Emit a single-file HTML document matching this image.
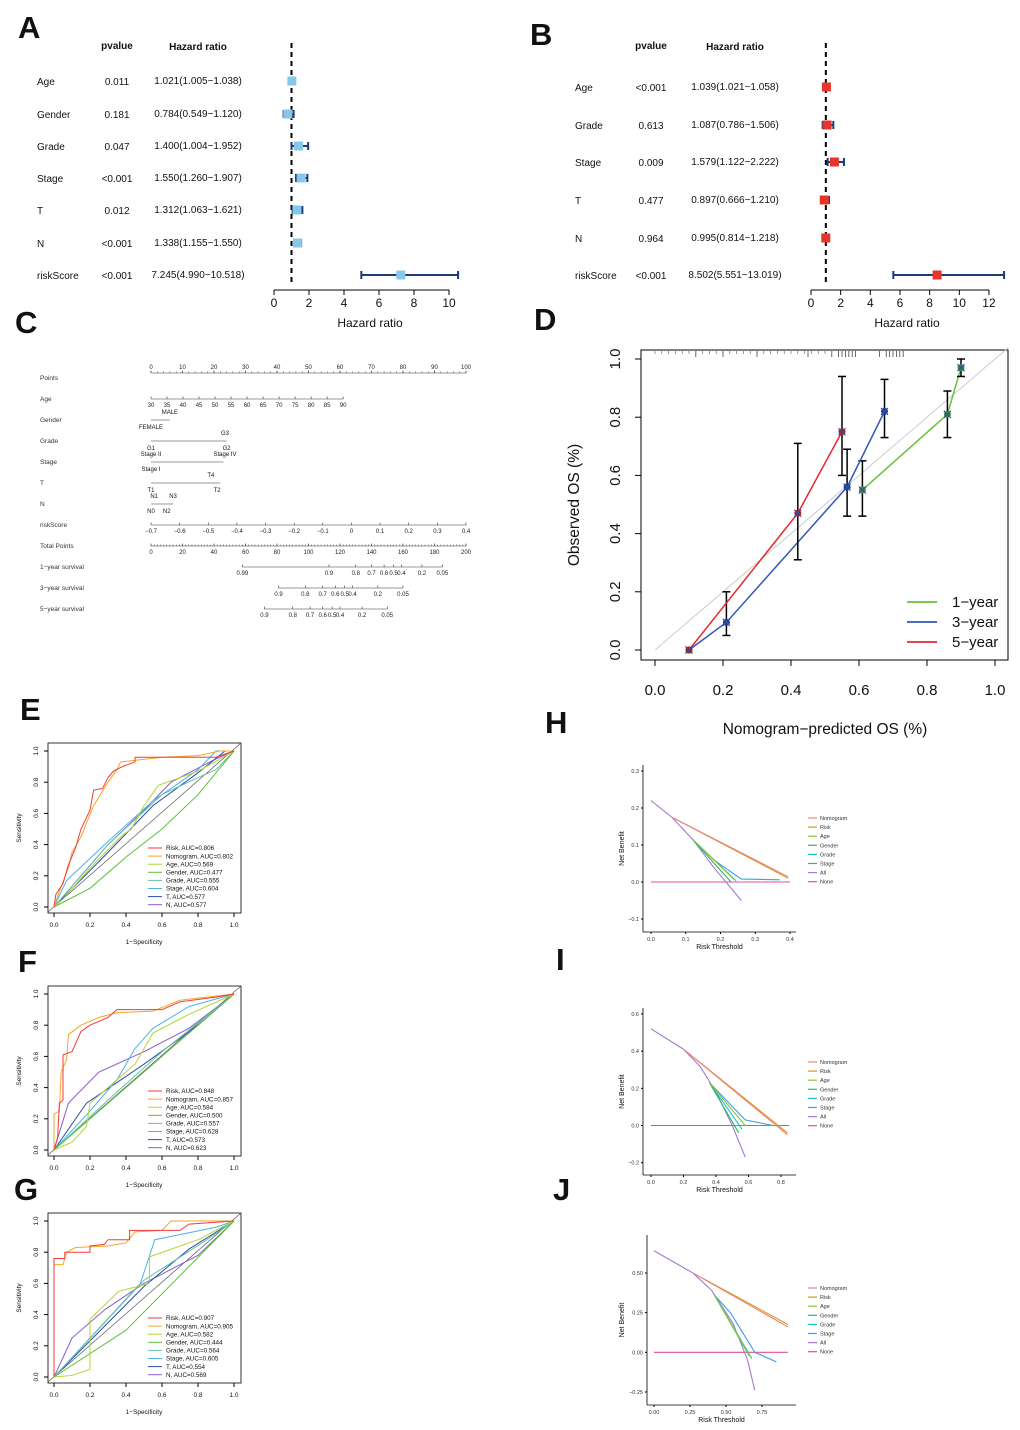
<!DOCTYPE html>
<html><head><meta charset="utf-8"><style>
body{margin:0;background:#fff}
svg{display:block;font-family:"Liberation Sans",Arial,sans-serif}
</style></head><body>
<svg id="s" width="1020" height="1430" viewBox="0 0 1020 1430"></svg>
<script>
// ---------- DATA ----------
const forestAVars=["Age","Gender","Grade","Stage","T","N","riskScore"];
const forestAP=["0.011","0.181","0.047","<0.001","0.012","<0.001","<0.001"];
const forestAHR=[1.021,0.784,1.400,1.550,1.312,1.338,7.245];
const forestALo=[1.005,0.549,1.004,1.260,1.063,1.155,4.990];
const forestAHi=[1.038,1.120,1.952,1.907,1.621,1.550,10.518];
const forestATicks=[0,2,4,6,8,10];
const forestBVars=["Age","Grade","Stage","T","N","riskScore"];
const forestBP=["<0.001","0.613","0.009","0.477","0.964","<0.001"];
const forestBHR=[1.039,1.087,1.579,0.897,0.995,8.502];
const forestBLo=[1.021,0.786,1.122,0.666,0.814,5.551];
const forestBHi=[1.058,1.506,2.222,1.210,1.218,13.019];
const forestBTicks=[0,2,4,6,8,10,12];
const calibTicks=[0,0.2,0.4,0.6,0.8,1.0];
const cal1X=[0.61,0.86,0.90],cal1Y=[0.55,0.81,0.97],cal1Lo=[0.46,0.73,0.94],cal1Hi=[0.65,0.89,1.0];
const cal3X=[0.10,0.21,0.565,0.675],cal3Y=[0.0,0.095,0.56,0.82],cal3Lo=[0,0.05,0.46,0.73],cal3Hi=[0,0.20,0.69,0.93];
const cal5X=[0.10,0.42,0.55],cal5Y=[0.0,0.47,0.75],cal5Lo=[0,0.31,0.60],cal5Hi=[0,0.71,0.94];
const rocNames=["Risk","Nomogram","Age","Gender","Grade","Stage","T","N"];
const rocColors=["#f03b3b","#f5a623","#b5d335","#5cbf3c","#66c2a5","#4fb3e8","#2c4fb0","#8a5cc7"];
const rocAucE=["0.806","0.802","0.569","0.477","0.555","0.604","0.577","0.577"];
const rocAucF=["0.848","0.857","0.584","0.500","0.557","0.628","0.573","0.623"];
const rocAucG=["0.907","0.905","0.582","0.444","0.564","0.605","0.554","0.569"];
const rocE=[
 [[0,0],[0.01,0.08],[0.05,0.15],[0.08,0.27],[0.12,0.38],[0.15,0.5],[0.2,0.62],[0.22,0.75],[0.27,0.76],[0.3,0.83],[0.33,0.87],[0.38,0.9],[0.45,0.93],[0.45,0.96],[0.9,0.96],[1,1]],
 [[0,0],[0.03,0.1],[0.08,0.25],[0.1,0.35],[0.15,0.45],[0.22,0.65],[0.3,0.8],[0.35,0.88],[0.37,0.93],[0.6,0.96],[0.8,0.97],[0.92,1],[1,1]],
 [[0,0],[0.05,0.05],[0.2,0.25],[0.38,0.46],[0.43,0.5],[0.5,0.65],[0.58,0.78],[0.8,0.87],[1,1]],
 [[0,0],[0.2,0.12],[0.4,0.32],[0.6,0.5],[0.8,0.72],[1,1]],
 [[0,0],[0.3,0.4],[0.6,0.72],[0.8,0.83],[0.9,0.88],[1,1]],
 [[0,0],[0.07,0.17],[0.3,0.42],[0.55,0.68],[0.8,0.88],[0.9,1],[1,1]],
 [[0,0],[0.3,0.35],[0.55,0.65],[0.8,0.86],[0.95,1],[1,1]],
 [[0,0],[0.3,0.4],[0.5,0.62],[0.65,0.8],[0.9,0.95],[1,1]]];
const rocF=[
 [[0,0],[0.02,0.08],[0.03,0.3],[0.05,0.32],[0.05,0.61],[0.1,0.63],[0.15,0.76],[0.2,0.8],[0.3,0.85],[0.35,0.9],[0.6,0.9],[0.7,0.95],[0.9,0.98],[1,1]],
 [[0,0],[0,0.23],[0.03,0.25],[0.04,0.5],[0.07,0.58],[0.08,0.74],[0.15,0.8],[0.25,0.85],[0.35,0.88],[0.55,0.89],[0.7,0.96],[1,1]],
 [[0,0],[0.1,0.05],[0.18,0.15],[0.2,0.3],[0.35,0.45],[0.45,0.55],[0.55,0.75],[0.75,0.87],[1,1]],
 [[0,0],[1,1]],
 [[0,0],[0.3,0.32],[0.6,0.63],[1,1]],
 [[0,0],[0.2,0.25],[0.35,0.45],[0.45,0.65],[0.55,0.78],[0.75,0.92],[1,1]],
 [[0,0],[0.18,0.3],[0.5,0.55],[0.8,0.8],[1,1]],
 [[0,0],[0.08,0.3],[0.25,0.5],[0.5,0.63],[0.75,0.78],[1,1]]];
const rocG=[
 [[0,0],[0,0.76],[0.06,0.76],[0.06,0.8],[0.2,0.8],[0.2,0.84],[0.28,0.85],[0.3,0.88],[0.42,0.88],[0.42,0.94],[0.7,0.94],[0.75,0.98],[1,1]],
 [[0,0],[0,0.72],[0.05,0.72],[0.07,0.8],[0.12,0.83],[0.3,0.84],[0.4,0.86],[0.45,0.93],[0.6,0.94],[0.65,1],[1,1]],
 [[0,0],[0.1,0.01],[0.2,0.05],[0.2,0.37],[0.36,0.55],[0.53,0.6],[0.53,0.77],[0.8,0.88],[1,1]],
 [[0,0],[0.4,0.3],[1,1]],
 [[0,0],[0.5,0.62],[0.85,0.88],[1,1]],
 [[0,0],[0.48,0.6],[0.56,0.88],[0.9,0.96],[1,1]],
 [[0,0],[0.5,0.58],[0.75,0.82],[1,1]],
 [[0,0],[0.1,0.25],[0.28,0.43],[0.5,0.6],[0.8,0.78],[1,1]]];
const rocTicks=[0,0.2,0.4,0.6,0.8,1.0];
const dcaNames=["Nomogram","Risk","Age","Gender","Grade","Stage","All","None"];
const dcaColors=["#f08080","#d69a1a","#8cc43c","#2fb36a","#20c0c8","#3aa0e0","#a07ad0","#e0509a"];
const dcaH=[
 [[0.06,0.175],[0.395,0.014]],[[0.06,0.175],[0.395,0.010]],
 [[0.12,0.115],[0.24,0.006]],[[0.12,0.115],[0.23,0.0]],[[0.12,0.115],[0.245,0.003]],
 [[0.12,0.115],[0.18,0.06],[0.26,0.008],[0.37,0.006]],
 [[0,0.22],[0.06,0.175],[0.12,0.115],[0.18,0.04],[0.26,-0.05]],[[0,0],[0.4,0]]];
const dcaI=[
 [[0.2,0.41],[0.84,-0.05]],[[0.2,0.41],[0.84,-0.04]],
 [[0.36,0.23],[0.58,0.0]],[[0.36,0.23],[0.54,-0.04]],[[0.36,0.23],[0.56,-0.02]],
 [[0.36,0.23],[0.58,0.03],[0.75,0.0]],
 [[0,0.52],[0.2,0.41],[0.3,0.32],[0.4,0.18],[0.5,0.0],[0.58,-0.17]],[[0,0],[0.85,0]]];
const dcaJ=[
 [[0.27,0.5],[0.93,0.16]],[[0.27,0.5],[0.93,0.175]],
 [[0.42,0.36],[0.67,-0.03]],[[0.42,0.36],[0.66,-0.02]],[[0.42,0.36],[0.68,-0.04]],
 [[0.42,0.36],[0.53,0.25],[0.7,0.0],[0.85,-0.06]],
 [[0,0.64],[0.27,0.5],[0.4,0.39],[0.55,0.18],[0.65,-0.05],[0.7,-0.24]],[[0,0],[0.93,0]]];

// ---------- HELPERS ----------
const NS="http://www.w3.org/2000/svg",S=document.getElementById('s');
function el(t,a,txt,p){const e=document.createElementNS(NS,t);for(const k in a)e.setAttribute(k,a[k]);if(txt!=null)e.textContent=txt;(p||S).appendChild(e);return e;}
function T(x,y,s,size,anchor,extra){const a={x:x,y:y,'font-size':size,'text-anchor':anchor||'start',fill:'#111'};Object.assign(a,extra||{});const e=el('text',a,s);return e;}
function L(x1,y1,x2,y2,c,w,extra){const a={x1:x1,y1:y1,x2:x2,y2:y2,stroke:c||'#000','stroke-width':w||1};Object.assign(a,extra||{});return el('line',a);}
function P(pts,c,w){return el('polyline',{points:pts.map(p=>p.join(',')).join(' '),fill:'none',stroke:c,'stroke-width':w||1.2});}

[["A",18,38],["B",530,45],["C",15,333],["D",534,330],["E",20,720],["F",18,972],["G",14,1200],["H",545,733],["I",556,970],["J",553,1200]].forEach(l=>{
 const e=T(l[1],l[2],l[0],31,'start',{'font-weight':'bold'});
 
 });

// ---------- FOREST ----------
function forest(id,vars,pv,hr,lo,hi,ticks,rows,cfg){
 const sx=v=>cfg.x0+v*cfg.k;
 T(cfg.px,49,'pvalue',10,'middle',{'font-weight':'bold'});
 T(cfg.hx,50,'Hazard ratio',10,'middle',{'font-weight':'bold'});
 L(sx(1),43,sx(1),283,'#000',2,{'stroke-dasharray':'5,4'});
 vars.forEach((v,i)=>{const y=rows[i];
  T(cfg.lx,y+4,v,10); T(cfg.px,y+4,pv[i],10,'middle');
  T(cfg.hx,y+3,hr[i].toFixed(3)+'('+lo[i].toFixed(3)+'\u2212'+hi[i].toFixed(3)+')',10,'middle');
  const ci=L(sx(lo[i]),y,sx(hi[i]),y,cfg.cic,2);
  
  
  L(sx(lo[i]),y-4,sx(lo[i]),y+4,cfg.cic,2);L(sx(hi[i]),y-4,sx(hi[i]),y+4,cfg.cic,2);
  const b=el('rect',{x:sx(hr[i])-4.5,y:y-4.5,width:9,height:9,fill:cfg.pc});
  
  
 });
 L(sx(ticks[0]),290,sx(ticks[ticks.length-1]),290);
 ticks.forEach(t=>{L(sx(t),290,sx(t),295);T(sx(t),307,String(t),12,'middle');});
 T(cfg.ax,327,'Hazard ratio',12,'middle');
}
forest('forest-a',forestAVars,forestAP,forestAHR,forestALo,forestAHi,forestATicks,[81,114,146,178,210,243,275],{x0:274,k:17.5,lx:37,px:117,hx:198,ax:370,cic:'#1f3a78',pc:'#87c8ea'});
forest('forest-b',forestBVars,forestBP,forestBHR,forestBLo,forestBHi,forestBTicks,[87,125,162,200,238,275],{x0:811,k:14.83,lx:575,px:651,hx:735,ax:907,cic:'#1f3a78',pc:'#e8352b'});

// ---------- NOMOGRAM ----------
(function(){
 const px=v=>151+v*3.15, fs=6, c='#333';
 const rows=[["Points",378],["Age",399],["Gender",420],["Grade",441],["Stage",462],["T",483],["N",504],["riskScore",525],["Total Points",546],["1-year survival",567],["3-year survival",588],["5-year survival",609]];
 rows.forEach(r=>T(40,r[1]+2,r[0].replace('-','\u2212'),6.5,'start',{fill:'#333'}));
 function axis(y,a,b,labs,pos,below,minor){L(px(a),y,px(b),y,c,0.6);
  if(minor)for(let v=a;v<=b+0.01;v+=minor)L(px(v),y,px(v),y-1.5,c,0.5);
  labs.forEach((l,i)=>{L(px(pos[i]),y,px(pos[i]),y-2.5,c,0.6);T(px(pos[i]),below?y+8:y-4,l,fs,'middle',{fill:'#222'});});}
 const ptL=[0,10,20,30,40,50,60,70,80,90,100];
 axis(373,0,100,ptL.map(String),ptL,false,2);
 const ages=[30,35,40,45,50,55,60,65,70,75,80,85,90];
 axis(399,0,61,ages.map(String),ages.map(a=>(a-30)*61/60),true);
 L(px(0),420,px(6),420,c,0.6);T(px(6),414,'MALE',fs,'middle');T(px(0),429,'FEMALE',fs,'middle');
 L(px(0),441,px(24),441,c,0.6);T(px(23.5),435,'G3',fs,'middle');T(px(0),450,'G1',fs,'middle');T(px(24),450,'G2',fs,'middle');
 L(px(0),462,px(23),462,c,0.6);T(px(0),456,'Stage II',fs,'middle');T(px(23.5),456,'Stage IV',fs,'middle');T(px(0),471,'Stage I',fs,'middle');
 L(px(0),483,px(22),483,c,0.6);T(px(19),477,'T4',fs,'middle');T(px(0),492,'T1',fs,'middle');T(px(21),492,'T2',fs,'middle');
 L(px(0),504,px(7),504,c,0.6);T(px(1),498,'N1',fs,'middle');T(px(7),498,'N3',fs,'middle');T(px(0),513,'N0',fs,'middle');T(px(5),513,'N2',fs,'middle');
 const rs=["\u22120.7","\u22120.6","\u22120.5","\u22120.4","\u22120.3","\u22120.2","\u22120.1","0","0.1","0.2","0.3","0.4"];
 axis(525,0,100,rs,rs.map((_,i)=>i*100/11),true);
 const tp=[0,20,40,60,80,100,120,140,160,180,200];
 axis(546,0,100,tp.map(String),tp.map(v=>v/2),true,1);
 const s1=["0.99","0.9","0.8","0.7","0.6","0.5","0.4","0.2","0.05"],s1p=[29,56.5,65,70,74,77,79.5,86,92.5];
 axis(567,29,92.5,s1,s1p,true);
 const s3=["0.9","0.8","0.7","0.6","0.5","0.4","0.2","0.05"],s3p=[40.5,49,54.5,58.5,61.5,64,72,80];
 axis(588,40.5,80,s3,s3p,true);
 const s5=["0.9","0.8","0.7","0.6","0.5","0.4","0.2","0.05"],s5p=[36,45,50.5,54.5,57.5,60,67,75];
 axis(609,36,75,s5,s5p,true);
})();

// ---------- CALIBRATION ----------
(function(){
 const sx=v=>655+v*340, sy=v=>650-v*291;
 el('rect',{x:641,y:350,width:367,height:310,fill:'none',stroke:'#000','stroke-width':1});
 L(sx(0),sy(0),sx(1.04),sy(1.04),'#ccc',1);
 calibTicks.forEach(t=>{L(sx(t),660,sx(t),666);T(sx(t),695,t.toFixed(1),15,'middle');
  L(641,sy(t),635,sy(t));T(620,sy(t),t.toFixed(1),15,'middle',{transform:'rotate(-90 620 '+sy(t)+')'});});
 T(825,734,'Nomogram\u2212predicted OS (%)',15.5,'middle');
 T(579,505,'Observed OS (%)',15.5,'middle',{transform:'rotate(-90 579 505)'});
 [0.12,0.2,0.3,0.45,0.52,0.54,0.55,0.56,0.57,0.58,0.59,0.66,0.68,0.69,0.7,0.71,0.72,0.73].forEach(v=>L(sx(v),351,sx(v),357,'#444',0.8));
 for(let v=0.0;v<0.52;v+=0.02)L(sx(v),351,sx(v),354,'#555',0.6);
 function series(name,X,Y,Lo,Hi,col,mk){
  const pl=P(X.map((x,i)=>[sx(x),sy(Y[i])]),col,1.5);
  
  
  X.forEach((x,i)=>{if(Hi[i]>Lo[i]){L(sx(x),sy(Lo[i]),sx(x),sy(Hi[i]),'#000',1.5);L(sx(x)-4,sy(Lo[i]),sx(x)+4,sy(Lo[i]),'#000',1.5);L(sx(x)-4,sy(Hi[i]),sx(x)+4,sy(Hi[i]),'#000',1.5);}
   el('circle',{cx:sx(x),cy:sy(Y[i]),r:3.5,fill:mk});
   L(sx(x)-3.5,sy(Y[i])-3.5,sx(x)+3.5,sy(Y[i])+3.5,'#3050a0',1.2);L(sx(x)-3.5,sy(Y[i])+3.5,sx(x)+3.5,sy(Y[i])-3.5,'#3050a0',1.2);});}
 series('1-year',cal1X,cal1Y,cal1Lo,cal1Hi,'#6abf3a','#3a8a3a');
 series('3-year',cal3X,cal3Y,cal3Lo,cal3Hi,'#3558b5','#1f3f99');
 series('5-year',cal5X,cal5Y,cal5Lo,cal5Hi,'#e8282c','#b01e1e');
 [["1\u2212year",'#6abf3a',602],["3\u2212year",'#3558b5',622],["5\u2212year",'#e8282c',642]].forEach(l=>{L(907,l[2],937,l[2],l[1],1.8);T(952,l[2]+5,l[0],15);});
})();

// ---------- ROC ----------
function roc(id,off,curves,aucs){
 const sx=v=>54+v*180, sy=v=>907+off-v*156;
 el('rect',{x:48,y:743+off,width:193,height:170,fill:'none',stroke:'#000','stroke-width':0.8});
 rocTicks.forEach(t=>{L(sx(t),913+off,sx(t),917+off);T(sx(t),927+off,t.toFixed(1),6.5,'middle');
  L(48,sy(t),44,sy(t));T(38,sy(t),t.toFixed(1),6.5,'middle',{transform:'rotate(-90 38 '+sy(t)+')'});});
 T(144,944+off,'1\u2212Specificity',6.5,'middle');
 T(21,828+off,'Sensitivity',6.5,'middle',{transform:'rotate(-90 21 '+(828+off)+')'});
 L(48,912+off,241,743+off,'#555',0.7);
 for(let i=curves.length-1;i>=0;i--){const pl=P(curves[i].map(p=>[sx(p[0]),sy(p[1])]),rocColors[i],1);
  
  }
 rocNames.forEach((n,i)=>{const y=848+off+i*8.1;L(148,y,162,y,rocColors[i],1);T(166,y+2.2,n+', AUC='+aucs[i],6.3);});
}
roc('roc-e',0,rocE,rocAucE);
roc('roc-f',243,rocF,rocAucF);
roc('roc-g',470,rocG,rocAucG);

// ---------- DCA ----------
function dca(id,cfg,curves){
 const sx=v=>cfg.x0+v*cfg.kx, sy=v=>cfg.y0-v*cfg.ky;
 L(cfg.ax,cfg.top,cfg.ax,cfg.bot,'#000',0.8);L(cfg.ax,cfg.bot,cfg.right,cfg.bot,'#000',0.8);
 cfg.yt.forEach((t,i)=>{L(cfg.ax-2,sy(t),cfg.ax,sy(t));T(cfg.ax-4,sy(t)+2,cfg.ytl[i],5.5,'end',{fill:'#333'});});
 cfg.xt.forEach((t,i)=>{L(sx(t),cfg.bot,sx(t),cfg.bot+2);T(sx(t),cfg.bot+9,cfg.xtl[i],5.5,'middle',{fill:'#333'});});
 T((cfg.ax+cfg.right)/2,cfg.bot+17,'Risk Threshold',7,'middle');
 T(624,(cfg.top+cfg.bot)/2,'Net Benefit',7,'middle',{transform:'rotate(-90 624 '+((cfg.top+cfg.bot)/2)+')'});
 for(let i=curves.length-1;i>=0;i--){const pl=P(curves[i].map(p=>[sx(p[0]),sy(p[1])]),dcaColors[i],1.1);
  
  }
 dcaNames.forEach((n,i)=>{const y=cfg.ly+i*9.1;L(808,y,817,y,dcaColors[i],1.2);T(820,y+2,n,5.5,'start',{fill:'#333'});});
}
dca('dca-h',{x0:651,kx:347.5,y0:882,ky:370,ax:643,top:765,bot:932,right:796,yt:[-0.1,0,0.1,0.2,0.3],ytl:["\u22120.1","0.0","0.1","0.2","0.3"],xt:[0,0.1,0.2,0.3,0.4],xtl:["0.0","0.1","0.2","0.3","0.4"],ly:818},dcaH);
dca('dca-i',{x0:651,kx:162.5,y0:1125.5,ky:186,ax:643,top:1008,bot:1175,right:796,yt:[-0.2,0,0.2,0.4,0.6],ytl:["\u22120.2","0.0","0.2","0.4","0.6"],xt:[0,0.2,0.4,0.6,0.8],xtl:["0.0","0.2","0.4","0.6","0.8"],ly:1062},dcaI);
dca('dca-j',{x0:654,kx:144,y0:1352.3,ky:158.7,ax:647,top:1235,bot:1405,right:796,yt:[-0.25,0,0.25,0.5],ytl:["\u22120.25","0.00","0.25","0.50"],xt:[0,0.25,0.5,0.75],xtl:["0.00","0.25","0.50","0.75"],ly:1288},dcaJ);
</script>
</body></html>
